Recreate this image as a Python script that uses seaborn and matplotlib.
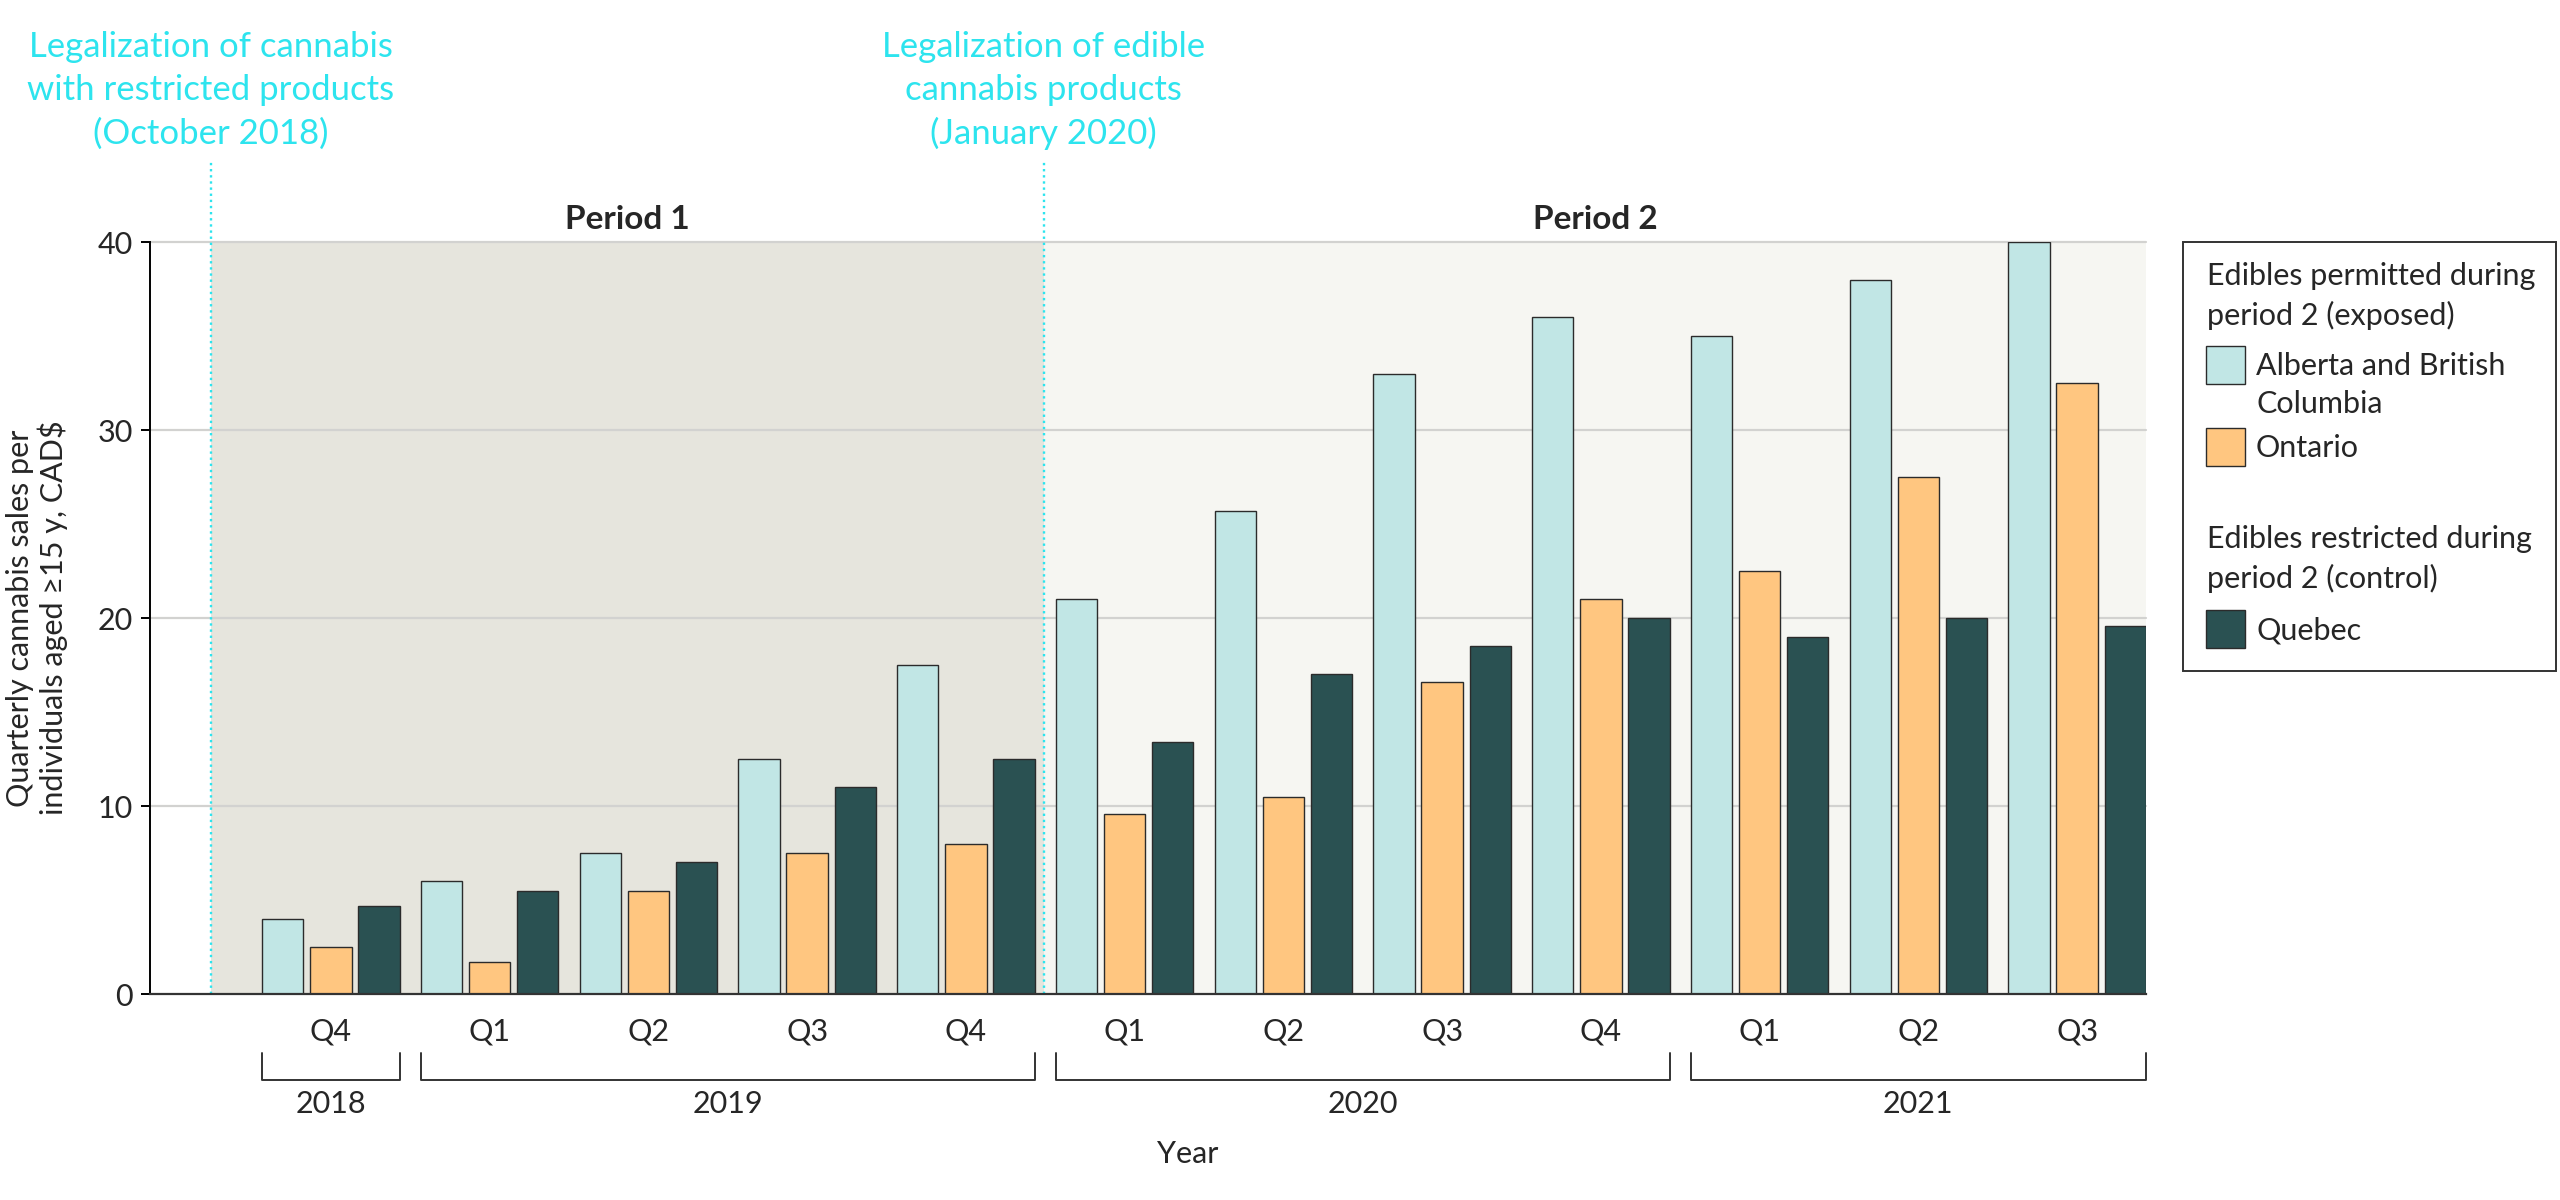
import matplotlib
matplotlib.use("Agg")
import matplotlib.pyplot as plt
import matplotlib.transforms as mtransforms
from matplotlib.patches import Rectangle
import pandas as pd
import seaborn as sns

# ---- data ----
period_keys = ["2018 Q4", "2019 Q1", "2019 Q2", "2019 Q3", "2019 Q4",
               "2020 Q1", "2020 Q2", "2020 Q3", "2020 Q4",
               "2021 Q1", "2021 Q2", "2021 Q3"]
quarter_labels = ["Q4", "Q1", "Q2", "Q3", "Q4", "Q1", "Q2", "Q3", "Q4", "Q1", "Q2", "Q3"]
year_labels = ["2018", "2019", "2020", "2021"]
year_spans = [(0, 0), (1, 4), (5, 8), (9, 11)]

regions = ["Alberta and British Columbia", "Ontario", "Quebec"]
alberta_bc = [4.0, 6.0, 7.5, 12.5, 17.5, 21.0, 25.7, 33.0, 36.0, 35.0, 38.0, 40.0]
ontario = [2.5, 1.7, 5.5, 7.5, 8.0, 9.6, 10.5, 16.6, 21.0, 22.5, 27.5, 32.5]
quebec = [4.7, 5.5, 7.0, 11.0, 12.5, 13.4, 17.0, 18.5, 20.0, 19.0, 20.0, 19.6]

colors = {"Alberta and British Columbia": "#c1e6e5",
          "Ontario": "#ffc680",
          "Quebec": "#2a5152"}
CYAN = "#2de4ee"
EDGE = "#2b2b2b"

df = pd.DataFrame({
    "period": period_keys * 3,
    "region": [r for r in regions for _ in period_keys],
    "sales": alberta_bc + ontario + quebec,
})

sns.set_style("white")
plt.rcParams["font.family"] = ["Lato", "DejaVu Sans"]

W, H = 2560, 1200
fig = plt.figure(figsize=(W / 100, H / 100), dpi=100)
ax_left, ax_right, ax_top, ax_bot = 149.6, 2146.0, 242.0, 994.0
ax = fig.add_axes([ax_left / W, 1 - ax_bot / H, (ax_right - ax_left) / W, (ax_bot - ax_top) / H])

def fy(px):
    # figure fraction from pixel row
    return 1 - px / H

def ay(px):
    # axes fraction from pixel row
    return (ax_bot - px) / (ax_bot - ax_top)

x_min, x_max = -1.142, 11.434
cut1, cut2 = -0.756, 4.49

# period shading and grid
ax.axvspan(cut1, cut2, color="#e6e5dd", zorder=0.2, lw=0)
ax.axvspan(cut2, x_max, color="#f6f6f2", zorder=0.2, lw=0)
for g in [10, 20, 30, 40]:
    ax.axhline(g, color="#d2d2d0", lw=1.6, zorder=0.6, clip_on=False)

sns.barplot(data=df, x="period", y="sales", hue="region", order=period_keys,
            hue_order=regions, palette=colors, saturation=1, width=0.909, gap=0.14,
            edgecolor=EDGE, linewidth=1.0, legend=False, ax=ax, zorder=1)

ax.set_xlim(x_min, x_max)
ax.set_ylim(0, 40)
ax.set_xticks(range(len(period_keys)))
ax.set_xticklabels(quarter_labels)
ax.set_yticks([0, 10, 20, 30, 40])
ax.tick_params(axis="x", length=0, pad=17, labelsize=22)
ax.tick_params(axis="y", length=6.5, width=1.4, pad=5.5, labelsize=22, color="black", left=True)
ax.set_xlabel("")
ax.set_ylabel("")
for side in ["top", "right"]:
    ax.spines[side].set_visible(False)
ax.spines["left"].set_color("black")
ax.spines["left"].set_linewidth(1.4)
ax.spines["bottom"].set_color("#333333")
ax.spines["bottom"].set_linewidth(1.6)
ax.spines["left"].set_zorder(3)
ax.spines["bottom"].set_zorder(3)

# legalization markers
for xc in [cut1, cut2]:
    ax.axvline(xc, ymin=0, ymax=ay(160), color=CYAN, ls=(0, (1, 1.6)), lw=1.7,
               clip_on=False, zorder=2)

annotations = [
    (cut1, ["Legalization of cannabis", "with restricted products", "(October 2018)"]),
    (cut2, ["Legalization of edible", "cannabis products", "(January 2020)"]),
]
trans_fx = mtransforms.blended_transform_factory(ax.transData, fig.transFigure)
for xc, lines in annotations:
    for i, line in enumerate(lines):
        ax.text(xc, fy(57 + 43.5 * i), line, transform=trans_fx, ha="center",
                va="baseline", fontsize=25, color=CYAN)

trans_ax = mtransforms.blended_transform_factory(ax.transData, ax.transAxes)
ax.text((cut1 + cut2) / 2, ay(229), "Period 1", transform=trans_ax, ha="center",
        va="baseline", fontsize=24, fontweight="bold")
ax.text((cut2 + x_max) / 2, ay(229), "Period 2", transform=trans_ax, ha="center",
        va="baseline", fontsize=24, fontweight="bold")

# year brackets
half = 0.4335
for label, (i0, i1) in zip(year_labels, year_spans):
    x0, x1 = i0 - half, i1 + half
    ax.plot([x0, x0, x1, x1], [ay(1053), ay(1080), ay(1080), ay(1053)],
            transform=trans_ax, color="#333333", lw=1.4, clip_on=False)
    ax.text((x0 + x1) / 2, ay(1113), label, transform=trans_ax, ha="center",
            va="baseline", fontsize=22)

ax.text(5.4, ay(1163), "Year", transform=trans_ax, ha="center", va="baseline", fontsize=22)
fig.text(37 / W, fy(618), "Quarterly cannabis sales per\nindividuals aged ≥15 y, CAD$",
         rotation=90, ha="center", va="center", fontsize=22, linespacing=1.15)

# legend box drawn in pixel units
def px_rect(x0, y0, x1, y1, **kw):
    fig.patches.append(Rectangle((x0 / W, fy(y1)), (x1 - x0) / W, (y1 - y0) / H,
                                 transform=fig.transFigure, **kw))

px_rect(2183, 242, 2556, 671, facecolor="white", edgecolor="#333333", lw=1.4)
legend_rows = [
    ("title", "Edibles permitted during", 285),
    ("title", "period 2 (exposed)", 325),
    ("Alberta and British Columbia", "Alberta and British", 375),
    ("text", "Columbia", 413),
    ("Ontario", "Ontario", 457),
    ("title", "Edibles restricted during", 548),
    ("title", "period 2 (control)", 588),
    ("Quebec", "Quebec", 639),
]
for kind, text, base in legend_rows:
    if kind == "title":
        fig.text(2207 / W, fy(base), text, ha="left", va="baseline", fontsize=22)
    else:
        if kind in colors:
            px_rect(2206, base - 29, 2245, base + 9, facecolor=colors[kind],
                    edgecolor=EDGE, lw=1.0)
        fig.text(2256 / W, fy(base), text, ha="left", va="baseline", fontsize=22)

fig.savefig("out.png", dpi=100)
